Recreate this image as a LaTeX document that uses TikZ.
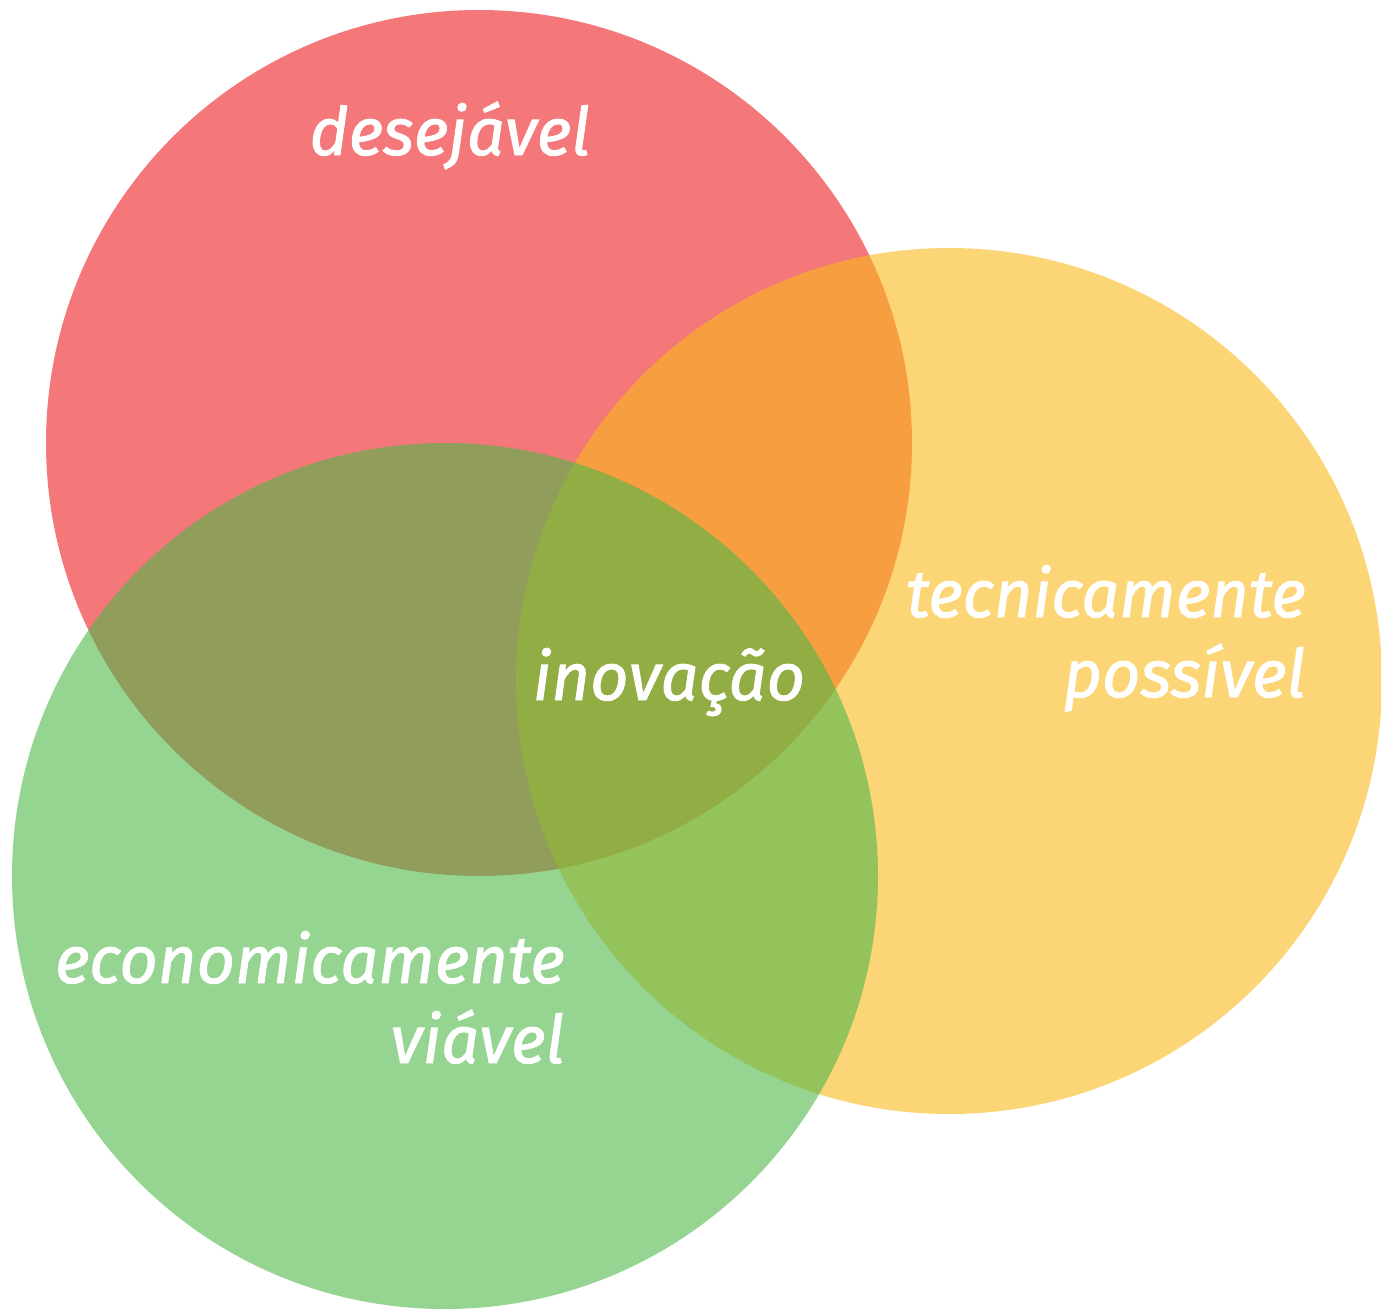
\documentclass[tikz,border=0pt]{standalone}
\usepackage{fontspec}
\setmainfont{Fira Sans}
\newfontfamily\lblfont{Fira Sans}[ItalicFeatures={FakeBold=1.3}]
\definecolor{cred}{RGB}{237,28,32}
\definecolor{cyellow}{RGB}{250,185,27}
\definecolor{cgreen}{RGB}{78,183,72}
\begin{document}
\begin{tikzpicture}[x=0.75pt,y=-0.75pt,
  setc/.style={fill=#1,fill opacity=0.6,draw=none},
  lbl/.style={text=white,inner sep=0pt,font=\lblfont\fontsize{50}{60}\selectfont\itshape,align=right}]
\useasboundingbox (0,0) rectangle (1381,1313);
\fill[setc=cred] (479,443) circle[radius=433];
\fill[setc=cyellow] (949,681) circle[radius=433];
\fill[setc=cgreen] (445,876) circle[radius=433];
\node[lbl,anchor=base] (des) at (450,155) {desejável};
\node[lbl,anchor=base] (ino) at (669,700) {inovação};
\node[lbl,anchor=base east] (tec) at (1306,697) {tecnicamente\\possível};
\node[lbl,anchor=base east] (eco) at (565,1063) {economicamente\\viável};
\end{tikzpicture}
\end{document}
